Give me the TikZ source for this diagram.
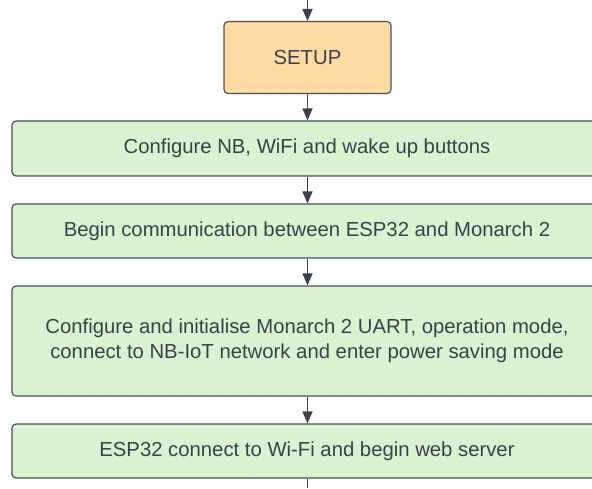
\documentclass[tikz,border=0pt]{standalone}
\usepackage{fontspec}
\setmainfont{Liberation Sans}
\usetikzlibrary{arrows.meta}
\definecolor{txt}{HTML}{3A414A}
\definecolor{edge}{HTML}{4A5058}
\definecolor{setupfill}{HTML}{FFDBA3}
\definecolor{greenfill}{HTML}{D9F2D0}
\tikzset{
  boxbase/.style={draw=edge, line width=1.2pt, rounded corners=4pt, text=txt,
    font=\fontsize{20.3}{25}\selectfont, align=center, inner sep=0pt},
  setupbox/.style={boxbase, fill=setupfill, minimum width=167pt, minimum height=72pt},
  greenbox/.style={boxbase, fill=greenfill, minimum width=590pt},
  flow/.style={draw=txt, line width=1.3pt, -{Triangle[length=12pt,width=10pt]}},
  flowend/.style={draw=txt, line width=1.3pt}
}
\begin{document}
\begin{tikzpicture}[x=1pt,y=-1pt]
\useasboundingbox (0,0) rectangle (592,488);
\clip (0,0) rectangle (592,488);
\coordinate (top) at (307.5,0);
\coordinate (bot) at (307.5,488);
\node[setupbox] (setup) at (307.5,57.5) {SETUP};
\node[greenbox, minimum height=55pt] (b1) at (307,148.5) {Configure NB, WiFi and wake up buttons};
\node[greenbox, minimum height=54pt] (b2) at (307,231) {Begin communication between ESP32 and Monarch 2};
\node[greenbox, minimum height=110pt] (b3) at (307,341) {Configure and initialise Monarch 2 UART, operation mode,\\connect to NB-IoT network and enter power saving mode};
\node[greenbox, minimum height=54pt] (b4) at (307,451) {ESP32 connect to Wi-Fi and begin web server};
\draw[flow] (top) -- (setup.north);
\draw[flow] (setup.south) -- (setup.south |- b1.north);
\draw[flow] (setup.south |- b1.south) -- (setup.south |- b2.north);
\draw[flow] (setup.south |- b2.south) -- (setup.south |- b3.north);
\draw[flow] (setup.south |- b3.south) -- (setup.south |- b4.north);
\draw[flowend] (setup.south |- b4.south) -- (bot);
\end{tikzpicture}
\end{document}
